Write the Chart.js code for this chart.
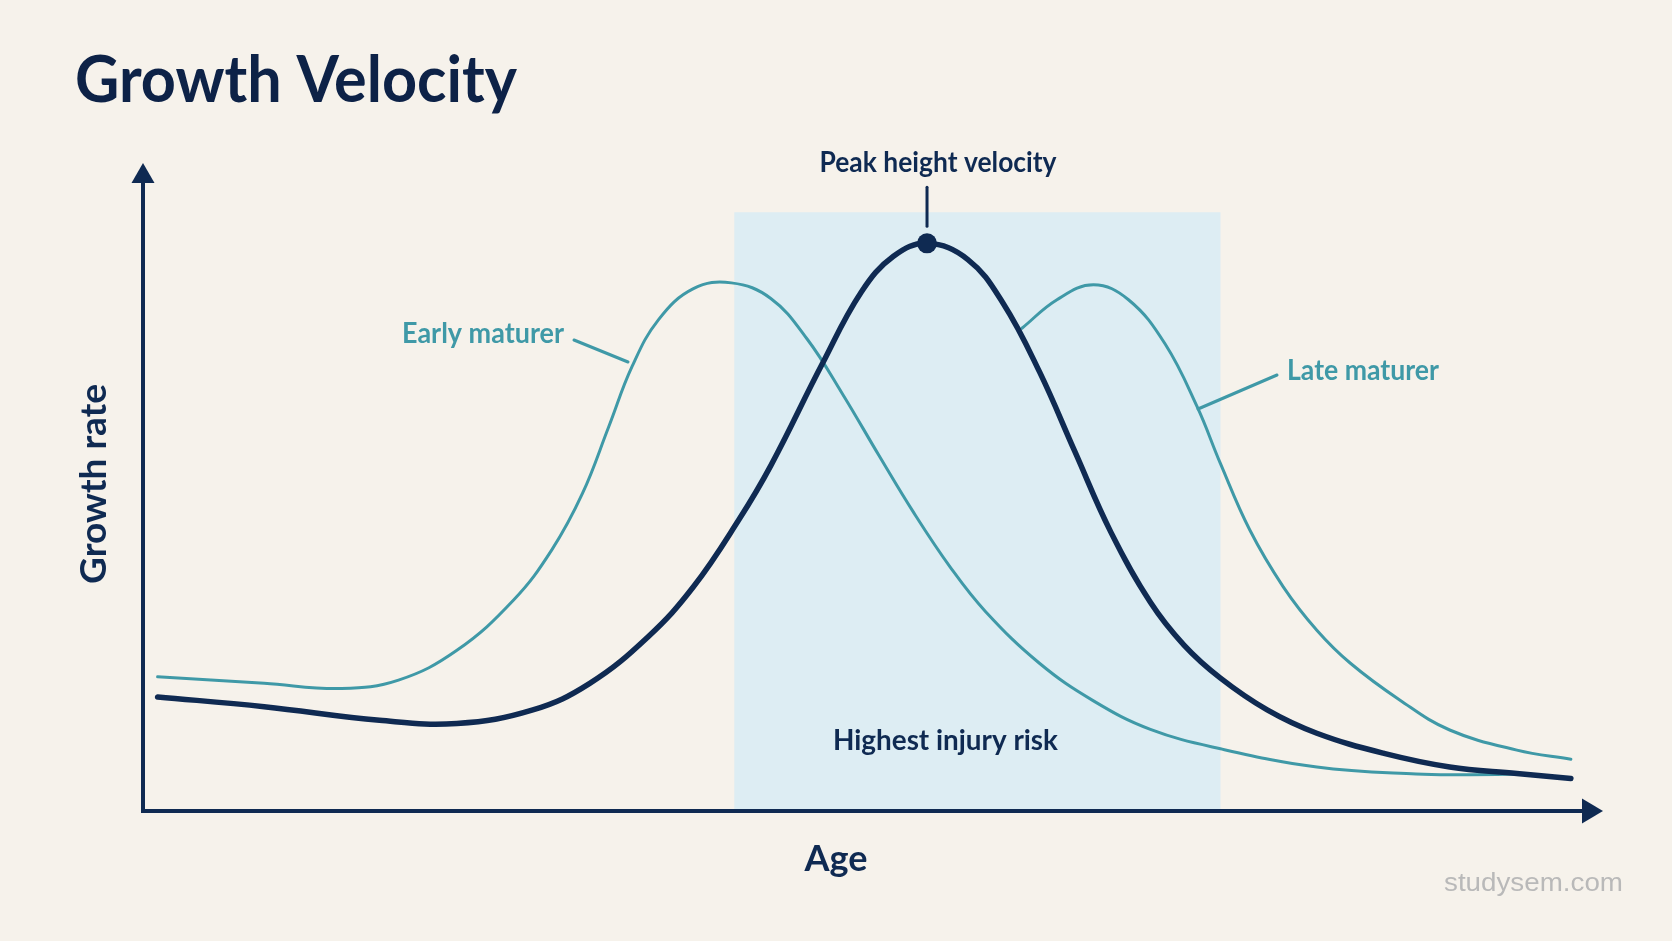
<!DOCTYPE html>
<html>
<head>
<meta charset="utf-8">
<title>Growth Velocity</title>
<script src="https://cdn.jsdelivr.net/npm/chart.js@4.4.1/dist/chart.umd.min.js"></script>
<style>
  html, body { margin: 0; padding: 0; background: #f6f2eb; }
  #wrap { width: 1672px; height: 941px; position: relative; }
</style>
</head>
<body>
<div id="wrap"><canvas id="grafico"></canvas></div>
<script>
// age is in arbitrary units (0-100 across the axis), growth rate likewise
let idadeMedia = [1.0, 8.3, 16.2, 21.5, 26.7, 30.6, 34.6, 37.7, 40.8, 43.0, 46.5, 49.2, 51.4, 53.7,
    56.5, 58.9, 61.4, 63.8, 66.3, 69.0, 71.3, 73.8, 77.0, 80.4, 85.0, 89.5, 94.1, 97.8];
let taxaMedia = [17.6, 16.1, 14.0, 13.5, 15.6, 19.7, 26.9, 34.6, 44.9, 53.3, 68.9, 80.1, 85.6, 87.6,
    85.1, 78.4, 67.8, 55.6, 43.0, 32.2, 25.6, 20.5, 15.6, 12.0, 8.9, 6.8, 5.8, 5.0];

let idadePrecoce = [1.0, 8.3, 13.6, 17.5, 21.5, 25.4, 28.0, 30.1, 31.9, 33.5, 35.3, 37.7, 40.3, 43.0,
    45.5, 47.9, 50.4, 52.8, 55.3, 57.7, 61.4, 65.1, 69.0, 73.8, 80.4, 87.2, 90.9, 95.0];
let taxaPrecoce = [20.7, 19.7, 18.9, 20.2, 24.8, 32.6, 40.3, 49.0, 59.3, 68.6, 75.8, 80.6, 81.5, 79.1,
    72.8, 64.4, 54.9, 46.0, 37.6, 30.8, 22.8, 17.0, 12.6, 9.6, 6.8, 5.7, 5.6, 5.7];

let idadeTardio = [60.2, 62.6, 65.1, 67.5, 70.0, 72.2, 73.8, 75.8, 78.1, 80.4, 82.7, 86.1, 89.5, 94.1, 97.8];
let taxaTardio = [74.5, 78.9, 81.2, 78.9, 72.1, 62.4, 53.6, 43.4, 34.6, 27.9, 22.8, 17.1, 12.5, 9.4, 8.0];

let faixaRisco = [40.5, 73.8];   // age span of highest injury risk
let topoFaixa = 92.4;
let indicePico = 13;             // peak height velocity point

const corFundo = '#f6f2eb';
const corAzul = '#0f2a52';
const corVerde = '#3f99a7';
const corFaixa = '#ddedf3';

function juntaPontos(xs, ys){
    let pontos = [];
    for(let i=0; i<xs.length; i++){
        pontos[i] = {x: xs[i], y: ys[i]};
    }
    return pontos;
}

// draws text squeezed/stretched to a given width
function textoAjustado(ctx, texto, x, y, largura, fonte, cor, alinhamento){
    ctx.save();
    ctx.font = fonte;
    ctx.fillStyle = cor;
    ctx.textAlign = 'left';
    ctx.textBaseline = 'alphabetic';
    let w = ctx.measureText(texto).width;
    let s = largura / w;
    let x0 = x;
    if(alinhamento === 'center') x0 = x - largura/2;
    if(alinhamento === 'right') x0 = x - largura;
    ctx.translate(x0, y);
    ctx.scale(s, 1);
    ctx.fillText(texto, 0, 0);
    ctx.restore();
}

function linha(ctx, x1, y1, x2, y2, cor, espessura){
    ctx.save();
    ctx.strokeStyle = cor;
    ctx.lineWidth = espessura;
    ctx.lineCap = 'round';
    ctx.beginPath();
    ctx.moveTo(x1, y1);
    ctx.lineTo(x2, y2);
    ctx.stroke();
    ctx.restore();
}

const desenhoExtra = {
    id: 'desenhoExtra',
    beforeDraw(chart){
        const ctx = chart.ctx;
        ctx.save();
        ctx.fillStyle = corFundo;
        ctx.fillRect(0, 0, chart.width, chart.height);
        ctx.restore();
    },
    beforeDatasetsDraw(chart){
        const ctx = chart.ctx;
        const sx = chart.scales.x, sy = chart.scales.y;
        const area = chart.chartArea;

        // risk band
        let x1 = sx.getPixelForValue(faixaRisco[0]);
        let x2 = sx.getPixelForValue(faixaRisco[1]);
        let yt = sy.getPixelForValue(topoFaixa);
        let yb = sy.getPixelForValue(0);
        ctx.save();
        ctx.fillStyle = corFaixa;
        ctx.fillRect(x1, yt, x2 - x1, yb - yt);
        ctx.restore();

        // axes with arrows
        let ox = area.left, oy = area.bottom;
        ctx.save();
        ctx.strokeStyle = corAzul;
        ctx.fillStyle = corAzul;
        ctx.lineWidth = 4;
        ctx.beginPath();
        ctx.moveTo(ox, area.top + 18);
        ctx.lineTo(ox, oy);
        ctx.lineTo(area.right - 18, oy);
        ctx.stroke();
        ctx.beginPath();
        ctx.moveTo(ox, area.top);
        ctx.lineTo(ox - 11.5, area.top + 20);
        ctx.lineTo(ox + 11.5, area.top + 20);
        ctx.closePath();
        ctx.fill();
        ctx.beginPath();
        ctx.moveTo(area.right, oy);
        ctx.lineTo(area.right - 21, oy - 12.5);
        ctx.lineTo(area.right - 21, oy + 12.5);
        ctx.closePath();
        ctx.fill();
        ctx.restore();
    },
    afterDraw(chart){
        const ctx = chart.ctx;
        const sx = chart.scales.x, sy = chart.scales.y;

        textoAjustado(ctx, 'Growth Velocity', 75, 102, 442, 'bold 65px Lato', '#0d2247', 'left');

        // peak label and leader
        let px = sx.getPixelForValue(idadeMedia[indicePico]);
        let py = sy.getPixelForValue(taxaMedia[indicePico]);
        linha(ctx, px, py - 56, px, py - 17, corAzul, 3);
        textoAjustado(ctx, 'Peak height velocity', px + 11, py - 71.5, 237, 'bold 28px Lato', corAzul, 'center');

        textoAjustado(ctx, 'Early maturer', 402, 343, 162, 'bold 28px Lato', corVerde, 'left');
        linha(ctx, 574, 340, 628, 362, corVerde, 3);

        textoAjustado(ctx, 'Late maturer', 1287, 380, 152, 'bold 28px Lato', corVerde, 'left');
        linha(ctx, 1277, 375, 1198, 409, corVerde, 3);

        textoAjustado(ctx, 'Highest injury risk', 833, 750, 225, 'bold 28px Lato', corAzul, 'left');

        textoAjustado(ctx, 'Age', 836, 871, 63, 'bold 36px Lato', corAzul, 'center');

        ctx.save();
        ctx.translate(106, 484);
        ctx.rotate(-Math.PI/2);
        textoAjustado(ctx, 'Growth rate', 0, 0, 200, 'bold 36px Lato', corAzul, 'center');
        ctx.restore();

        textoAjustado(ctx, 'studysem.com', 1623, 891, 179, '25px "Liberation Sans"', '#b9b9b9', 'right');
    }
};

function criaGrafico(){
    const canvas = document.getElementById('grafico');
    const grafico = new Chart(canvas, {
        type: 'line',
        data: {
            datasets: [
                {
                    label: 'Average',
                    data: juntaPontos(idadeMedia, taxaMedia),
                    borderColor: corAzul,
                    backgroundColor: corAzul,
                    borderWidth: 5.5,
                    borderCapStyle: 'round',
                    pointRadius: (c) => c.dataIndex === indicePico ? 10 : 0,
                    pointBorderWidth: 0,
                    tension: 0.4
                },
                {
                    label: 'Early maturer',
                    data: juntaPontos(idadePrecoce, taxaPrecoce),
                    borderColor: corVerde,
                    borderWidth: 3,
                    borderCapStyle: 'round',
                    pointRadius: 0,
                    tension: 0.4
                },
                {
                    label: 'Late maturer',
                    data: juntaPontos(idadeTardio, taxaTardio),
                    borderColor: corVerde,
                    borderWidth: 3,
                    borderCapStyle: 'round',
                    pointRadius: 0,
                    tension: 0.4
                }
            ]
        },
        options: {
            responsive: true,
            maintainAspectRatio: false,
            animation: false,
            layout: { padding: { left: 143, right: 69, top: 163, bottom: 130 } },
            scales: {
                x: { type: 'linear', min: 0, max: 100, display: false },
                y: { type: 'linear', min: 0, max: 100, display: false }
            },
            plugins: {
                legend: { display: false },
                tooltip: { enabled: false },
                title: { display: false }
            }
        },
        plugins: [desenhoExtra]
    });
}

criaGrafico();
</script>
</body>
</html>
